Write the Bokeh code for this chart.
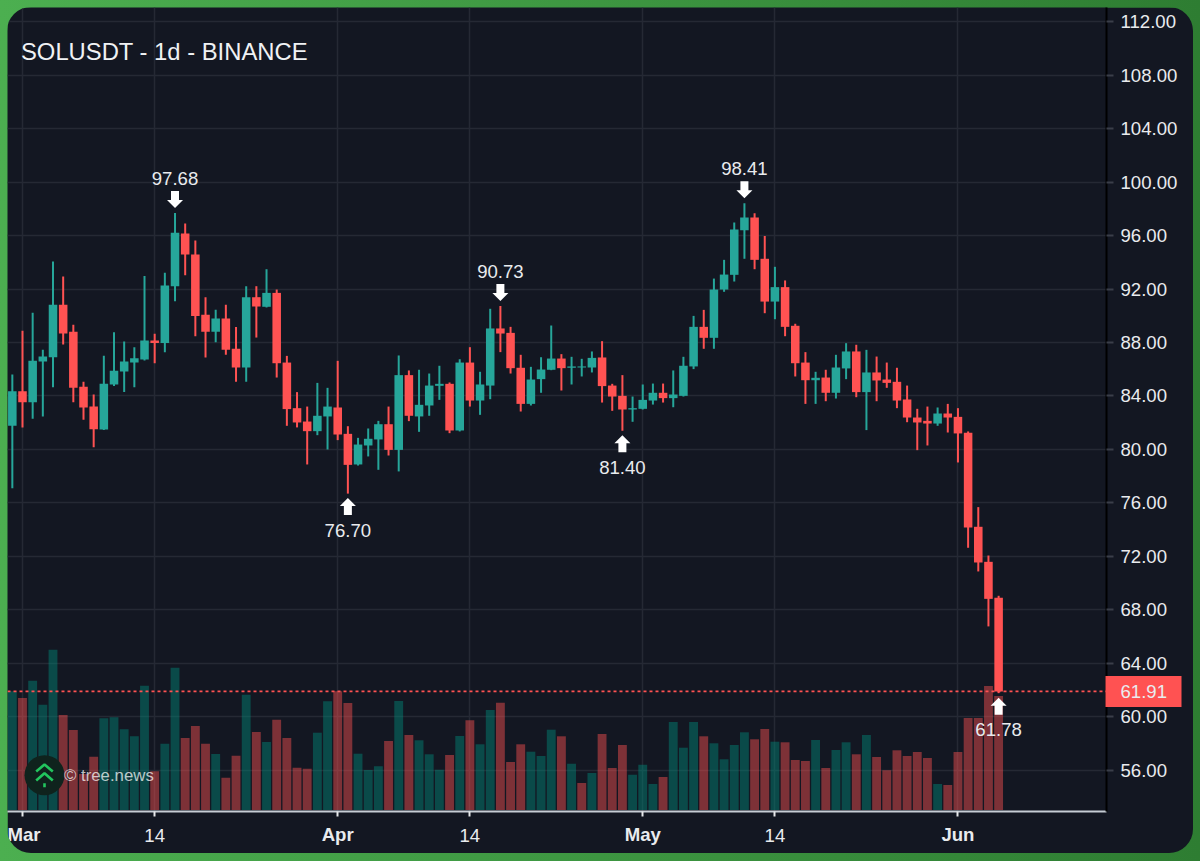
from bokeh.plotting import figure
from bokeh.embed import file_html
from bokeh.resources import INLINE
from bokeh.models import (ColumnDataSource, Range1d, LinearAxis, FixedTicker, Label, Span, Grid,
                          NumeralTickFormatter, GlobalInlineStyleSheet)
from bokeh.core.properties import value

first_day = -1
opens = [81.77,84.36,83.54,86.58,86.90,90.82,88.80,84.69,83.21,81.50,84.86,85.83,86.50,86.73,88.15,87.97,92.21,96.15,94.58,90.07,88.80,89.79,87.53,86.13,91.39,90.67,91.71,86.50,83.09,82.09,81.37,82.47,83.14,81.17,
         78.88,80.30,80.75,81.89,79.97,85.56,82.47,83.29,84.76,84.91,81.42,86.50,83.66,84.78,89.05,88.72,86.11,83.41,85.26,85.96,86.80,86.11,86.13,86.13,86.88,84.78,84.01,82.99,83.04,83.66,84.24,83.84,
         84.01,86.21,89.17,88.35,91.96,93.06,96.40,97.35,94.26,91.06,92.14,89.25,86.50,85.18,85.38,84.24,86.06,87.33,84.29,85.76,85.23,85.06,83.74,82.39,82.14,81.94,82.69,82.44,81.25,74.22,71.60,68.91]
closes = [84.36,83.54,86.63,86.95,90.82,88.67,84.61,83.14,81.52,84.91,85.88,86.58,86.83,88.15,87.97,92.26,96.20,94.58,89.99,88.80,89.79,87.45,86.13,91.39,90.69,91.71,86.45,83.02,82.02,81.37,82.52,83.21,81.12,78.85,
          80.37,80.80,81.89,79.97,85.56,82.52,83.34,84.78,84.91,81.42,86.50,83.66,84.86,89.05,88.67,86.08,83.41,85.23,85.98,86.80,86.08,86.21,86.21,86.85,84.74,83.96,82.99,83.09,83.71,84.24,83.84,84.11,
          86.26,89.17,88.35,91.96,93.08,96.45,97.35,94.18,91.06,92.14,89.17,86.45,85.18,85.36,84.24,86.13,87.33,84.29,85.76,85.16,84.98,83.66,82.39,82.02,81.94,82.69,82.39,81.20,74.17,71.55,68.83,61.91]
highs = [85.61,88.87,90.22,87.45,94.06,92.93,89.32,85.06,84.11,87.00,88.77,88.07,87.65,92.98,88.65,93.21,97.68,96.90,95.63,91.39,90.44,90.82,89.15,92.21,92.21,93.48,91.96,87.00,84.29,83.21,84.98,84.61,86.63,81.74,
         80.87,81.57,82.14,83.21,87.03,85.91,85.96,85.68,86.26,85.01,86.75,87.65,85.81,90.52,90.73,89.17,87.08,86.18,86.90,89.27,87.13,86.93,86.78,87.33,88.10,84.91,85.56,83.96,84.86,84.93,84.93,85.91,
         86.93,89.99,90.44,92.78,94.18,96.97,98.41,97.67,95.97,93.66,92.64,89.40,87.28,85.81,85.96,87.08,87.95,87.83,87.45,86.95,86.50,86.11,84.78,83.04,83.21,83.14,83.41,83.09,81.35,75.69,72.07,69.06]
lows = [77.11,81.65,82.29,82.47,84.66,87.85,83.54,82.22,80.17,81.45,84.74,84.29,84.66,86.65,86.45,87.28,91.09,93.03,88.47,86.88,88.02,87.08,85.06,85.06,88.37,90.62,85.38,81.77,81.65,78.88,81.07,80.00,80.70,76.70,
        78.80,79.48,78.48,79.55,78.36,82.12,81.32,82.52,83.71,81.22,81.35,83.21,82.59,83.76,87.28,85.68,82.84,83.29,84.24,85.93,84.41,84.86,85.46,85.76,83.51,82.89,81.40,82.07,82.99,83.36,83.51,83.16,
        83.96,86.01,87.53,87.53,91.79,92.56,94.26,93.48,90.19,89.74,88.47,85.46,83.41,83.41,83.61,83.81,85.26,83.91,81.45,83.61,84.61,83.09,82.04,79.95,80.30,81.77,81.27,79.03,72.65,70.88,66.77,61.78]
volumes = [118.7,112,129.3,105.3,160.3,95,80,36,53.3,91.7,92.7,80.7,73.7,124.3,38.7,66.3,142.3,72,84,66.3,56,32.3,54.3,115.3,78,68,90.3,72,42.3,41.3,77.3,108.7,118.7,107,
           56.3,40,43.7,69,109,75,69.7,55.7,40.3,55,74,89.7,65.7,100,107.3,48,65.7,58.3,54,80.3,73.7,46.3,27,37,76,42,65,35.3,45.3,26,33,88,62.3,
           88,73.7,66.7,50.7,65,77.7,70.7,81,68.3,67.7,50,49,70,42,60,67.7,55.7,75,53,39.7,59.7,54,58,52,26,25,58,92,92,124,114]
red_volume_days = [55]

high_mark_days = [15, 47, 71]
low_mark_days = [32, 59, 96]
month_ticks = {0: "Mar", 31: "Apr", 61: "May", 92: "Jun"}
mid_ticks = {13: "14", 44: "14", 74: "14"}
price_ticks = [56 + 4 * i for i in range(15)]
last_price = 61.91
title_text = "SOLUSDT - 1d - BINANCE"
watermark = "© tree.news"

BG, GRID = "#131722", "#252934"
UP, DOWN = "#26a69a", "#ff5252"
TEXT = "#e9ebee"
FONT = "Liberation Sans"
FS = "18.6px"

X0, X1 = -1.475, 106.61
Y0, Y1 = 52.93, 113.05
FW, FH = 1099, 804
px_x = (X1 - X0) / FW      # days per pixel
px_y = (Y1 - Y0) / FH      # price per pixel

p = figure(width=1186, height=846, x_range=Range1d(X0, X1), y_range=Range1d(Y0, Y1),
           output_backend="svg", toolbar_location=None, x_axis_location=None, y_axis_location=None,
           min_border_left=0, min_border_top=0, min_border_right=87, min_border_bottom=42)
p.margin = (7, 7, 7, 7)
p.center = [r for r in p.center if not isinstance(r, Grid)]
p.background_fill_color = BG
p.border_fill_color = BG
p.outline_line_color = None
p.styles = {"border-radius": "24px", "overflow": "hidden"}
p.stylesheets = [GlobalInlineStyleSheet(css="html{min-height:100%;background:linear-gradient(to right,#4caf50,#2e7d32);}body{background:transparent;}")]
p.extra_y_ranges = {"vol": Range1d(-1.5, 802.5)}

def text_style(axis):
    axis.minor_tick_line_color = None
    axis.major_label_text_color = TEXT
    axis.major_label_text_font = FONT
    axis.major_label_text_font_size = FS

xaxis = LinearAxis(ticker=FixedTicker(ticks=list(month_ticks) + list(mid_ticks)),
                   major_label_overrides={**{k: "" for k in month_ticks}, **mid_ticks})
xaxis.axis_line_color = "#c6ccd4"
xaxis.axis_line_width = 2
xaxis.major_tick_line_color = "#e6e8ea"
xaxis.major_tick_line_width = 2
xaxis.major_tick_in = 0
xaxis.major_tick_out = 5
xaxis.major_label_standoff = 12
text_style(xaxis)
p.add_layout(xaxis, "below")

# bold month names: a second axis pulled back up onto the first one's label row
month_axis = LinearAxis(ticker=FixedTicker(ticks=list(month_ticks)), major_label_overrides=month_ticks)
month_axis.axis_line_color = None
month_axis.major_tick_line_color = None
month_axis.major_tick_in = 0
month_axis.major_tick_out = 0
month_axis.major_label_standoff = -21
text_style(month_axis)
month_axis.major_label_text_font_style = "bold"
p.add_layout(month_axis, "below")

yaxis = LinearAxis(ticker=FixedTicker(ticks=price_ticks), formatter=NumeralTickFormatter(format="0.00"))
yaxis.axis_line_color = "#000000"
yaxis.axis_line_width = 2
yaxis.major_tick_line_color = "#3a3e49"
yaxis.major_tick_line_width = 2
yaxis.major_tick_in = 0
yaxis.major_tick_out = 7
yaxis.major_label_standoff = 7
text_style(yaxis)
p.add_layout(yaxis, "right")

# last-price tag: a second right axis whose single, thick tick is the tag's box
tag_axis = LinearAxis(ticker=FixedTicker(ticks=[last_price]), formatter=NumeralTickFormatter(format="0.00"))
tag_axis.axis_line_color = None
tag_axis.major_tick_line_color = DOWN
tag_axis.major_tick_line_width = 31
tag_axis.major_tick_in = 75
tag_axis.major_tick_out = 1
tag_axis.major_label_standoff = -61
text_style(tag_axis)
p.add_layout(tag_axis, "right")

p.add_layout(Grid(dimension=0, ticker=xaxis.ticker, grid_line_color=GRID, grid_line_width=1.5))
p.add_layout(Grid(dimension=1, ticker=yaxis.ticker, grid_line_color=GRID, grid_line_width=1.5))

days = list(range(first_day, first_day + len(opens)))
up = [c >= o for o, c in zip(opens, closes)]
src = ColumnDataSource(dict(
    day=days, open=opens, close=closes, high=highs, low=lows, vol=volumes,
    color=[UP if u else DOWN for u in up],
    vcolor=[DOWN if (d in red_volume_days or not u) else "#00897b" for d, u in zip(days, up)],
))
p.vbar(x="day", top="vol", bottom=0, width=0.87, color="vcolor", fill_alpha=0.45, line_alpha=0,
       y_range_name="vol", source=src)
p.segment(x0="day", y0="low", x1="day", y1="high", color="color", line_width=2, source=src)
p.vbar(x="day", top="open", bottom="close", width=0.84, color="color", line_alpha=0, source=src)

# fixed-size arrow markers anchored at the marked highs and lows
def arrow(day, anchor, sign):
    hw, sw = 8 * px_x, 4 * px_x
    gap = (5 if sign > 0 else 4.5) * px_y
    tip = anchor + sign * gap
    neck = tip + sign * 8 * px_y
    tail = tip + sign * 17 * px_y
    return ([day, day - hw, day - sw, day - sw, day + sw, day + sw, day + hw],
            [tip, neck, neck, tail, tail, neck, neck])

xs, ys = [], []
for d in high_mark_days:
    a, b = arrow(d, highs[d - first_day], 1); xs.append(a); ys.append(b)
for d in low_mark_days:
    a, b = arrow(d, lows[d - first_day], -1); xs.append(a); ys.append(b)
p.patches(xs, ys, color="#ffffff", line_alpha=0)

hv = [highs[d - first_day] for d in high_mark_days]
lv = [lows[d - first_day] for d in low_mark_days]
p.text(high_mark_days, hv, text=[f"{v:.2f}" for v in hv], y_offset=-34.4, text_align="center",
       text_baseline="middle", text_color=TEXT, text_font=value(FONT), text_font_size=FS)
p.text(low_mark_days, lv, text=[f"{v:.2f}" for v in lv], y_offset=36.4, text_align="center",
       text_baseline="middle", text_color=TEXT, text_font=value(FONT), text_font_size=FS)

# tree.news badge, placed in pixels from the frame corner
bx = X0 + 37 * px_x
by = Y0 + 36.3 * px_y
p.scatter([bx], [by], size=40, color="#0f231d", line_alpha=0)
cx = [[bx - 8.3 * px_x, bx, bx + 8.3 * px_x], [bx - 8.3 * px_x, bx, bx + 8.3 * px_x], [bx, bx]]
cy = [[by + 3.7 * px_y, by + 10.7 * px_y, by + 3.7 * px_y],
      [by - 5.3 * px_y, by + 2 * px_y, by - 5.3 * px_y],
      [by - 8 * px_y, by - 12 * px_y]]
p.multi_line(cx, cy, line_color="#22c55e", line_width=2.6)
p.add_layout(Label(x=56.5, y=36, x_units="screen", y_units="screen", text=watermark, text_color="#ffffff",
                   text_alpha=0.72, text_font=FONT, text_font_size="16.8px", text_baseline="middle"))

p.add_layout(Span(location=last_price, dimension="width", line_color=DOWN, line_width=1.7, line_dash="3 3"))

p.add_layout(Label(x=13.5, y=FH - 44, x_units="screen", y_units="screen", text=title_text, text_color="#f0f2f4",
                   text_font=FONT, text_font_size="23.8px", text_baseline="middle"))

open("out.html", "w").write(file_html(p, INLINE))
